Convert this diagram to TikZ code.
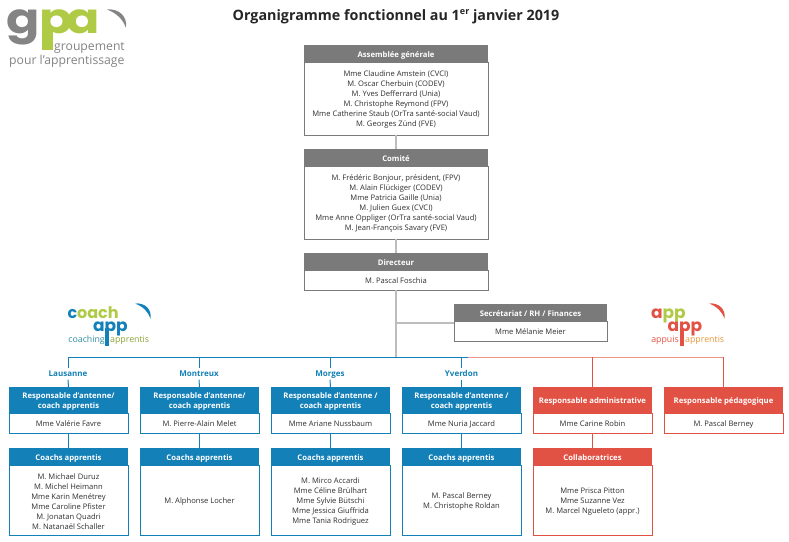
\documentclass[tikz,border=0pt]{standalone}
\usepackage{fontspec}
\usepackage{graphicx}
\setmainfont{Open Sans}
\newfontfamily\logofont{Poppins}
\definecolor{cblue}{HTML}{1380B8}
\definecolor{cred}{HTML}{E25244}
\definecolor{cgray}{HTML}{7A7A7A}
\definecolor{cline}{HTML}{BDBDBD}
\definecolor{ctext}{HTML}{2F2F2F}
\definecolor{cgreen}{HTML}{AFCB46}
\definecolor{corange}{HTML}{E8973A}
\definecolor{lgray}{HTML}{848484}
\tikzset{
  x=1pt,y=-1pt,
  boxhead/.style={anchor=north west,inner sep=0pt,outer sep=0pt,align=center,text=white,font=\fontsize{7.7}{9.4}\selectfont\bfseries},
  boxbody/.style={anchor=north west,inner sep=0pt,outer sep=0pt,align=center,fill=white,text=ctext,font=\fontsize{7.6}{10}\selectfont},
  city/.style={inner sep=1.5pt,fill=white,text=cblue,text height=6.5pt,text depth=1.5pt,font=\fontsize{8}{10}\selectfont\bfseries},
  conn/.style={line width=1pt},
  grayconn/.style={line width=1.6pt,cline},
  logo/.style={inner sep=0pt,outer sep=0pt,anchor=base west},
}
% name, x, top, header bottom, bottom, width, colour, title, body
\newcommand{\orgbox}[9]{%
  \node[boxbody,draw=#7,line width=0.9pt,minimum width=#6pt,minimum height=\dimexpr #5pt-#4pt\relax] (#1b) at (#2,#4) {\rule{0pt}{8pt}#9};
  \node[boxhead,fill=#7,minimum width=#6pt,minimum height=\dimexpr #4pt-#3pt\relax] (#1h) at (#2,#3) {\rule{0pt}{9pt}#8};
}
\newcommand{\swoosh}[4]{% x, y, colour, scale
  \fill[#3] (#1,#2) .. controls (#1+10*#4,#2-1*#4) and (#1+17*#4,#2+6*#4) .. (#1+15.5*#4,#2+15*#4) .. controls (#1+13*#4,#2+8*#4) and (#1+8*#4,#2+3*#4) .. (#1,#2) -- cycle;
}
\newcommand{\wideglyph}[1]{\scalebox{1.17}[1]{#1}}
\begin{document}
\begin{tikzpicture}
\useasboundingbox (0,0) rectangle (789,541);
\fill[white] (0,0) rectangle (789,541);

\node[inner sep=0pt,text=black!85,font=\fontsize{14.3}{17}\selectfont\bfseries] (title) at (396,16.5) {Organigramme fonctionnel au 1\raisebox{0.45em}{\fontsize{9}{9}\selectfont er} janvier 2019};

% --- gpa logo
\node[logo,text=lgray,font=\fontsize{42}{42}\logofont\bfseries] (lg) at (6.5,33) {\wideglyph{g}};
\fill[cgreen] (42,30) rectangle (52.5,50);
\node[logo,text=cgreen,font=\fontsize{42}{42}\logofont\bfseries] (lp) at (39,33) {\wideglyph{p}};
\node[logo,text=cgreen,font=\fontsize{42}{42}\logofont\bfseries] (lb) at (66,33) {\wideglyph{a}};
\swoosh{107}{9.5}{lgray}{1.22}
\node[inner sep=0pt,anchor=base east,text=lgray,font=\fontsize{12.2}{13}\selectfont] (lg1) at (125,50) {groupement};
\node[inner sep=0pt,anchor=base west,text=lgray,font=\fontsize{12.2}{13}\selectfont] (lg2) at (9,64) {pour l’apprentissage};

% --- coach app logo
\node[logo,font=\fontsize{16}{17}\logofont\bfseries] (cc) at (67.5,318) {\textcolor{cblue}{c}\textcolor{cgreen}{oach}};
\node[logo,text=cblue,font=\fontsize{17}{17}\logofont\bfseries] (ca) at (93,331) {app};
\fill[cblue] (105,328) rectangle (109,346);
\swoosh{135}{303.5}{cblue}{1}
\node[inner sep=0pt,anchor=base east,text=cblue!80!cgreen,font=\fontsize{8.8}{9}\selectfont] (cl1) at (105,342) {coaching};
\node[inner sep=0pt,anchor=base west,text=cgreen!80!black,font=\fontsize{8.8}{9}\selectfont] (cl2) at (110,342) {apprentis};

% --- app app logo
\node[logo,font=\fontsize{17}{17}\logofont\bfseries] (ac) at (651,318) {\textcolor{cred}{a}\textcolor{cgreen}{pp}};
\node[logo,text=cred,font=\fontsize{17}{17}\logofont\bfseries] (aa) at (667.5,331) {app};
\fill[cred] (680,328) rectangle (684,346);
\swoosh{709}{303.5}{cred}{1}
\node[inner sep=0pt,anchor=base east,text=cred,font=\fontsize{8.8}{9}\selectfont] (al1) at (679,342) {appuis};
\node[inner sep=0pt,anchor=base west,text=corange,font=\fontsize{8.8}{9}\selectfont] (al2) at (685,342) {apprentis};

% --- boxes
\orgbox{ag}{304}{45}{62}{135}{184}{cgray}{Assemblée générale}{Mme Claudine Amstein (CVCI)\\M. Oscar Cherbuin (CODEV)\\M. Yves Defferrard (Unia)\\M. Christophe Reymond (FPV)\\Mme Catherine Staub (OrTra santé-social Vaud)\\M. Georges Zünd (FVE)}
\orgbox{co}{304}{149}{166}{239}{184}{cgray}{Comité}{M. Frédéric Bonjour, président, (FPV)\\M. Alain Flückiger (CODEV)\\Mme Patricia Gaille (Unia)\\M. Julien Guex (CVCI)\\Mme Anne Oppliger (OrTra santé-social Vaud)\\M. Jean-François Savary (FVE)}
\orgbox{di}{304}{253}{270}{290}{184}{cgray}{Directeur}{M. Pascal Foschia}
\orgbox{se}{454}{304}{321}{341}{153}{cgray}{Secrétariat / RH / Finances}{Mme Mélanie Meier}

\orgbox{ra}{9}{387}{413}{433}{119}{cblue}{Responsable d’antenne/\\coach apprentis}{Mme Valérie Favre}
\orgbox{rb}{140}{387}{413}{433}{119}{cblue}{Responsable d’antenne/\\coach apprentis}{M. Pierre-Alain Melet}
\orgbox{rc}{271}{387}{413}{433}{119}{cblue}{Responsable d’antenne /\\coach apprentis}{Mme Ariane Nussbaum}
\orgbox{rd}{402}{387}{413}{433}{119}{cblue}{Responsable d’antenne /\\coach apprentis}{Mme Nuria Jaccard}
\orgbox{re}{533}{387}{413}{433}{119}{cred}{Responsable administrative}{Mme Carine Robin}
\orgbox{rf}{664}{387}{413}{433}{119}{cred}{Responsable pédagogique}{M. Pascal Berney}

\orgbox{ca}{9}{448}{465}{535.5}{119}{cblue}{Coachs apprentis}{M. Michael Duruz\\M. Michel Heimann\\Mme Karin Menétrey\\Mme Caroline Pfister\\M. Jonatan Quadri\\M. Natanaël Schaller}
\orgbox{cb}{140}{448}{465}{535.5}{119}{cblue}{Coachs apprentis}{M. Alphonse Locher}
\orgbox{cc}{271}{448}{465}{535.5}{119}{cblue}{Coachs apprentis}{M. Mirco Accardi\\Mme Céline Brülhart\\Mme Sylvie Bütschi\\Mme Jessica Giuffrida\\Mme Tania Rodriguez}
\orgbox{cd}{402}{448}{465}{535.5}{119}{cblue}{Coachs apprentis}{M. Pascal Berney\\M. Christophe Roldan}
\orgbox{ce}{533}{448}{465}{535.5}{119}{cred}{Collaboratrices}{Mme Prisca Pitton\\Mme Suzanne Vez\\M. Marcel Ngueleto (appr.)}

% --- cities
\node[city] (la) at (68,374) {Lausanne};
\node[city] (mo) at (199,374) {Montreux};
\node[city] (mg) at (330,374) {Morges};
\node[city] (yv) at (461.5,374) {Yverdon};

% --- connectors
\coordinate (busL) at (68,357);
\coordinate (busM) at (396,357);
\coordinate (busS) at (396,323);
\coordinate (busB) at (199,357);
\coordinate (busC) at (330,357);
\coordinate (busD) at (461.5,357);
\coordinate (busX) at (468,357);
\coordinate (busE) at (592.5,357);
\coordinate (busF) at (723.5,357);

\draw[grayconn] (agb.south) -- (coh.north);
\draw[grayconn] (cob.south) -- (dih.north);
\draw[grayconn] (dib.south) -- (busM);
\draw[grayconn] (busS) -- (seh.west |- busS);

\draw[conn,cblue] (busL) -- (busX);
\draw[conn,cred!60!white] (busX) -- (busF);
\draw[conn,cblue] (busL) -- (la.north);
\draw[conn,cblue] (la.south) -- (rah.north);
\draw[conn,cblue] (busB) -- (mo.north);
\draw[conn,cblue] (mo.south) -- (rbh.north);
\draw[conn,cblue] (busC) -- (mg.north);
\draw[conn,cblue] (mg.south) -- (rch.north);
\draw[conn,cblue] (busD) -- (yv.north);
\draw[conn,cblue] (yv.south) -- (rdh.north);
\draw[conn,cred] (busE) -- (reh.north);
\draw[conn,cred] (busF) -- (rfh.north);

\draw[conn,cblue] (rab.south) -- (cah.north);
\draw[conn,cblue] (rbb.south) -- (cbh.north);
\draw[conn,cblue] (rcb.south) -- (cch.north);
\draw[conn,cblue] (rdb.south) -- (cdh.north);
\draw[conn,cred] (reb.south) -- (ceh.north);
\end{tikzpicture}
\end{document}
